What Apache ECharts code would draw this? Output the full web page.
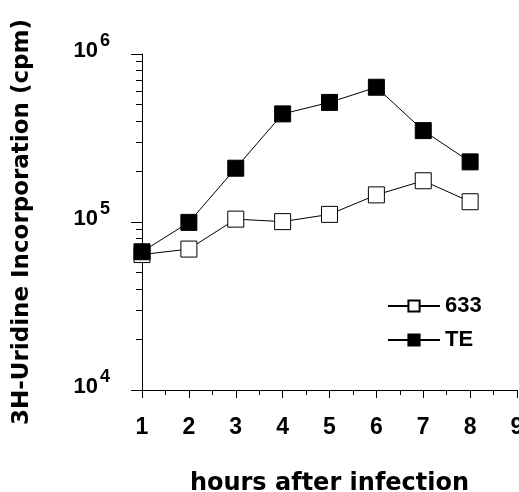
<!DOCTYPE html>
<html>
<head>
<meta charset="utf-8">
<script src="https://cdn.jsdelivr.net/npm/echarts@6/dist/echarts.min.js"></script>
<style>
  html, body { margin: 0; padding: 0; background: #fff; }
  #chart { width: 519px; height: 492px; }
</style>
</head>
<body>
<div id="chart"></div>
<script>
var hours = [1, 2, 3, 4, 5, 6, 7, 8];
var s633 = [64000, 69000, 104000, 100500, 111000, 145000, 176000, 132000];
var sTE = [66500, 99500, 209000, 440000, 515000, 634000, 350000, 228000];
var minorLogTicks = [];
[4, 5].forEach(function (p) {
  for (var k = 2; k <= 9; k++) minorLogTicks.push(p + Math.log10(k));
});

var myChart = echarts.init(document.getElementById('chart'));
var font = 'Liberation Sans';
myChart.setOption({
  backgroundColor: '#fff',
  animation: false,
  grid: { left: 142, right: 2, top: 54, bottom: 102, containLabel: false, outerBoundsMode: 'none' },
  legend: {
    orient: 'vertical',
    left: 382,
    top: 290,
    itemWidth: 52,
    itemHeight: 14,
    itemGap: 12,
    textStyle: { fontFamily: font, fontWeight: 'bold', fontSize: 22, color: '#000' },
    data: ['633', 'TE']
  },
  xAxis: {
    type: 'value',
    min: 1,
    max: 9,
    interval: 1,
    name: 'hours after infection',
    nameLocation: 'middle',
    nameGap: 82,
    nameTextStyle: { fontFamily: 'DejaVu Sans', fontWeight: 'bold', fontSize: 24, color: '#000' },
    axisLine: { lineStyle: { color: '#000', width: 1 } },
    axisTick: { show: true, length: 8, lineStyle: { color: '#000' } },
    minorTick: { show: true, splitNumber: 2, length: 5, lineStyle: { color: '#000' } },
    axisLabel: { margin: 26, fontFamily: font, fontWeight: 'bold', fontSize: 23, color: '#000' },
    splitLine: { show: false }
  },
  yAxis: [{
    type: 'log',
    logBase: 10,
    min: 10000,
    max: 1000000,
    name: '3H-Uridine Incorporation (cpm)',
    nameLocation: 'middle',
    nameGap: 108,
    nameTextStyle: { fontFamily: 'DejaVu Sans', fontWeight: 'bold', fontSize: 23, color: '#000' },
    axisLine: { show: true, lineStyle: { color: '#000', width: 1 } },
    axisTick: { show: true, length: 11, lineStyle: { color: '#000' } },
    axisLabel: {
      margin: 32,
      verticalAlign: 'middle',
      padding: [2, 0, 0, 0],
      formatter: function (v) {
        return '{b|10}{s|' + Math.round(Math.log10(v)) + '}';
      },
      rich: {
        b: { fontFamily: font, fontWeight: 'bold', fontSize: 22, lineHeight: 14, color: '#000', verticalAlign: 'bottom' },
        s: { fontFamily: font, fontWeight: 'bold', fontSize: 18, lineHeight: 14, color: '#000', verticalAlign: 'bottom', padding: [0, 0, 12, 2] }
      }
    },
    splitLine: { show: false }
  }, {
    type: 'value',
    min: 4,
    max: 6,
    position: 'left',
    axisLine: { show: false },
    axisTick: { show: true, length: 6, customValues: minorLogTicks, lineStyle: { color: '#000' } },
    axisLabel: { show: false },
    splitLine: { show: false }
  }],
  series: [{
    name: '633',
    type: 'line',
    data: hours.map(function (h, i) { return [h, s633[i]]; }),
    symbol: 'rect',
    symbolSize: 16,
    z: 2,
    lineStyle: { color: '#000', width: 1 },
    itemStyle: { color: '#fff', borderColor: '#000', borderWidth: 1 }
  }, {
    name: 'TE',
    type: 'line',
    data: hours.map(function (h, i) { return [h, sTE[i]]; }),
    symbol: 'rect',
    symbolSize: 16,
    z: 3,
    lineStyle: { color: '#000', width: 1 },
    itemStyle: { color: '#000', borderColor: '#000', borderWidth: 1 }
  }]
});
</script>
</body>
</html>
